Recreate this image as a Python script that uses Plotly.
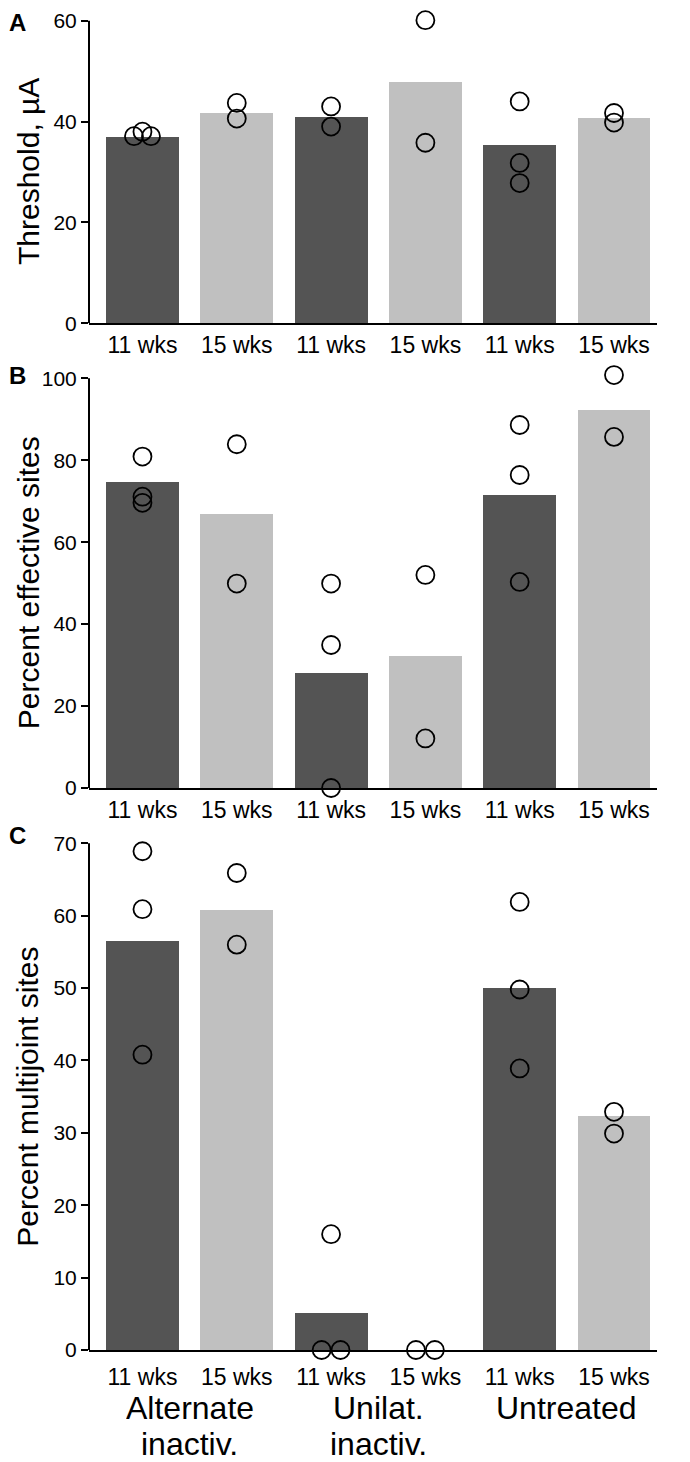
import plotly.graph_objects as go
from plotly.subplots import make_subplots

# -----------------------------
# DATA
# -----------------------------
tick_labels = ["11 wks", "15 wks", "11 wks", "15 wks", "11 wks", "15 wks"]
groups = [["Alternate", "inactiv."], ["Unilat.", "inactiv."], ["Untreated", ""]]
bar_colors = ["#545454", "#c0c0c0"] * 3

threshold_means = [37.0, 41.8, 40.9, 47.9, 35.5, 40.8]
threshold_points = [[37.1, 38.0, 37.1], [43.7, 40.6], [43.0, 39.0],
                    [60.1, 35.8], [44.0, 31.8, 27.8], [41.7, 39.8]]
threshold_offsets = [[-0.09, 0, 0.09], [0, 0], [0, 0], [0, 0], [0, 0, 0], [0, 0]]

effective_means = [74.6, 66.9, 28.1, 32.2, 71.4, 92.3]
effective_points = [[80.9, 71.1, 69.6], [83.9, 49.9], [49.9, 34.9, 0.0],
                    [52.0, 12.1], [88.6, 76.4, 50.3], [100.8, 85.7]]
effective_offsets = [[0, 0, 0], [0, 0], [0, 0, 0], [0, 0], [0, 0, 0], [0, 0]]

multijoint_means = [56.5, 60.8, 5.1, 0.0, 50.0, 32.3]
multijoint_points = [[68.9, 60.9, 40.8], [65.9, 56.0], [16.0, 0.0, 0.0],
                     [0.0, 0.0], [61.9, 49.8, 38.9], [32.9, 29.9]]
multijoint_offsets = [[0, 0, 0], [0, 0], [0, -0.1, 0.1], [-0.1, 0.1], [0, 0, 0], [0, 0]]

panels = [
    ("A", "Threshold, µA", threshold_means, threshold_points, threshold_offsets, 60, 20),
    ("B", "Percent effective sites", effective_means, effective_points, effective_offsets, 100, 20),
    ("C", "Percent multijoint sites", multijoint_means, multijoint_points, multijoint_offsets, 70, 10),
]

# -----------------------------
# LAYOUT CONSTANTS (page pixels; the page body adds an 8px offset)
# -----------------------------
OFF = 8
W, H = 690 - OFF, 1462 - OFF
FONT = "Liberation Sans, Arial, sans-serif"


def fx(px):
    return (px - OFF) / W


def fy(py):
    return 1 - (py - OFF) / H


plot_left, plot_right = 89, 657
panel_px = [(20.7, 323.3), (378.3, 788.0), (843.3, 1350.0)]
letter_px = [22, 375, 835]
xlabel_pad = [0, 0, 5]
headroom = 0.02  # extra range above the top tick so points there are drawn

fig = make_subplots(rows=3, cols=1)

for i, (letter, title, means, points, offsets, ymax, dtick) in enumerate(panels):
    row = i + 1
    xs = list(range(len(means)))

    fig.add_trace(go.Bar(x=xs, y=means, width=0.774, marker_color=bar_colors,
                         marker_line_width=0, hoverinfo="skip"), row=row, col=1)

    px_, py_ = [], []
    for k, (pts, offs) in enumerate(zip(points, offsets)):
        for v, o in zip(pts, offs):
            px_.append(k + o)
            py_.append(v)
    fig.add_trace(go.Scatter(x=px_, y=py_, mode="markers", cliponaxis=False,
                             marker=dict(symbol="circle-open", size=18, color="black",
                                         line=dict(width=1.8, color="black"))),
                  row=row, col=1)

    top, bot = panel_px[i]
    ytop = ymax * (1 + headroom)
    dom_top = top - (bot - top) * headroom
    fig.update_yaxes(domain=[fy(bot), fy(dom_top)], range=[0, ytop], dtick=dtick,
                     showline=False,
                     ticks="outside", ticklen=7, tickwidth=2, tickcolor="black",
                     showgrid=False, zeroline=False, automargin=False,
                     tickfont=dict(family=FONT, size=21, color="black"),
                     row=row, col=1)
    fig.update_xaxes(domain=[fx(plot_left), fx(plot_right)], range=[-0.567, 5.456],
                     tickvals=xs, ticktext=tick_labels,
                     showline=True, linecolor="black", linewidth=2,
                     ticks="outside", ticklen=xlabel_pad[i], tickcolor="rgba(0,0,0,0)",
                     showgrid=False, zeroline=False, automargin=False,
                     tickfont=dict(family=FONT, size=23, color="black"),
                     row=row, col=1)

    # y axis line ending at the top tick
    xref = "x" if row == 1 else "x%d" % row
    yref = "y" if row == 1 else "y%d" % row
    fig.add_shape(type="line", xref=xref + " domain", yref=yref,
                  x0=0, x1=0, y0=0, y1=ymax, line=dict(color="black", width=2))

    # y axis title
    fig.add_annotation(text=title, xref="paper", yref="paper",
                       x=fx(28), y=fy((top + bot) / 2), textangle=-90,
                       xanchor="center", yanchor="middle", showarrow=False,
                       font=dict(family=FONT, size=30, color="black"))
    # panel letter
    fig.add_annotation(text="<b>%s</b>" % letter, xref="paper", yref="paper",
                       x=fx(OFF), y=fy(letter_px[i]), xanchor="left", yanchor="middle",
                       height=20, borderpad=0,
                       showarrow=False, font=dict(family=FONT, size=24, color="black"))

# group labels under the last panel
line_px = [1408, 1444]
for g, lines in enumerate(groups):
    for j, line in enumerate(lines):
        if not line:
            continue
        fig.add_annotation(text=line, xref="x3", yref="paper",
                           x=2 * g + 0.5, y=fy(line_px[j]), height=30, borderpad=0,
                           xanchor="center", yanchor="middle", showarrow=False,
                           font=dict(family=FONT, size=32, color="black"))

fig.update_layout(width=W, height=H, margin=dict(l=0, r=0, t=0, b=0),
                  plot_bgcolor="white", paper_bgcolor="white",
                  showlegend=False, bargap=0)

fig.write_html("out.html")
